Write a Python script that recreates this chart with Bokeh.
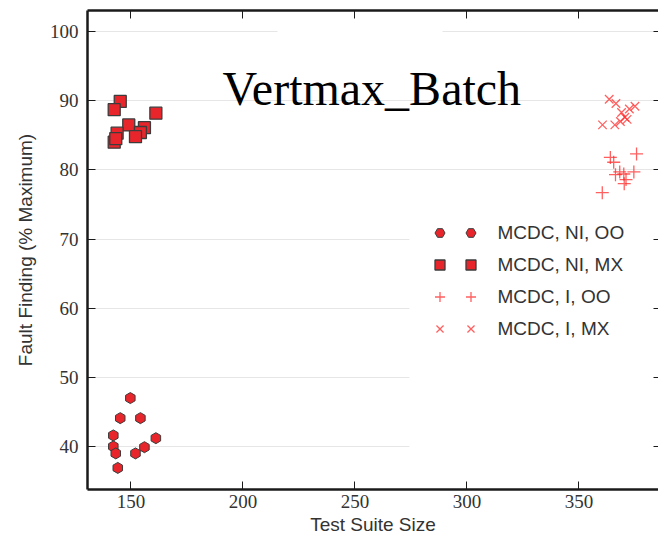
import numpy as np
from bokeh.plotting import figure
from bokeh.models import (Range1d, FixedTicker, LinearAxis, Legend, LegendItem, Label,
                          BoxAnnotation)
from bokeh.embed import file_html
from bokeh.resources import INLINE

# ---- data ----
x_ticks = [150, 200, 250, 300, 350]
y_ticks = [40, 50, 60, 70, 80, 90, 100]

ni_oo_x = [149.7, 145.2, 154.2, 142.1, 142.1, 143.2, 144.1, 152.0, 156.0, 161.1]
ni_oo_y = [47.0, 44.1, 44.1, 41.6, 40.0, 39.0, 36.9, 39.0, 39.9, 41.2]

ni_mx_x = [145.2, 142.5, 161.1, 149.0, 156.0, 154.2, 143.8, 152.0, 142.5, 143.2]
ni_mx_y = [89.9, 88.7, 88.2, 86.5, 86.1, 85.4, 85.3, 84.8, 84.0, 84.5]

i_oo_x = [364.0, 375.7, 365.5, 368.2, 366.3, 370.0, 374.5, 371.0, 370.2, 360.4]
i_oo_y = [81.8, 82.3, 81.1, 79.7, 79.3, 79.4, 79.7, 78.6, 78.0, 76.7]

i_mx_x = [363.5, 366.5, 369.0, 372.5, 375.0, 370.5, 360.5, 366.0, 368.5, 371.5]
i_mx_y = [90.2, 89.6, 88.3, 88.8, 89.2, 87.6, 86.5, 86.5, 87.0, 87.3]

labels = ["MCDC, NI, OO", "MCDC, NI, MX", "MCDC, I, OO", "MCDC, I, MX"]
title_text = "Vertmax_Batch"
x_label = "Test Suite Size"
y_label = "Fault Finding (% Maximum)"

RED = "#e8252b"
EDGE = "#3c3c3c"
LRED = "#ff2a2a"
AXC = "#1a1a1a"
TXT = "#333333"

p = figure(width=658, height=537, output_backend="svg", toolbar_location=None,
           x_range=Range1d(130.58, 385.5), y_range=Range1d(33.78, 103.04),
           min_border_left=87, min_border_right=0, min_border_top=10,
           min_border_bottom=48, outline_line_color=None,
           background_fill_color="white", border_fill_color="white")

# axes
for ax in (p.xaxis[0], p.yaxis[0]):
    ax.major_tick_in = 8
    ax.major_tick_out = 0
    ax.minor_tick_in = 0
    ax.minor_tick_out = 0
    ax.axis_line_width = 2.5
    ax.axis_line_color = AXC
    ax.major_tick_line_color = AXC
    ax.major_tick_line_width = 1
    ax.major_label_text_font = "Liberation Serif"
    ax.major_label_text_font_size = "19px"
    ax.major_label_text_color = TXT
    ax.axis_label_text_font = "Liberation Sans"
    ax.axis_label_text_font_size = "19px"
    ax.axis_label_text_font_style = "normal"
    ax.axis_label_text_color = TXT

p.xaxis[0].ticker = FixedTicker(ticks=x_ticks)
p.yaxis[0].ticker = FixedTicker(ticks=y_ticks)
p.xaxis[0].axis_label = x_label
p.yaxis[0].axis_label = y_label
p.xaxis[0].major_label_standoff = 5
p.xaxis[0].axis_label_standoff = 3
p.yaxis[0].major_label_standoff = 9
p.yaxis[0].axis_label_standoff = 11

top = LinearAxis(ticker=FixedTicker(ticks=x_ticks), major_tick_in=8, major_tick_out=0,
                 minor_tick_in=0, minor_tick_out=0, axis_line_width=2.5,
                 axis_line_color=AXC, major_tick_line_color=AXC,
                 major_label_overrides={t: "" for t in x_ticks},
                 major_label_standoff=0)
p.add_layout(top, "above")
right = LinearAxis(ticker=FixedTicker(ticks=y_ticks), major_tick_in=5, major_tick_out=0,
                   minor_tick_in=0, minor_tick_out=0, axis_line_color=None,
                   major_tick_line_color=AXC,
                   major_label_overrides={t: "" for t in y_ticks},
                   major_label_standoff=0)
p.add_layout(right, "right")

p.xgrid.visible = False
p.ygrid.ticker = FixedTicker(ticks=y_ticks)
p.ygrid.grid_line_color = "#e6e6e6"
p.ygrid.grid_line_width = 1

# white panels behind the title and the legend (they hide the grid there)
p.add_layout(BoxAnnotation(left=215.4, right=289.1, bottom=97.5, top=103.04,
                           fill_color="white", fill_alpha=1, line_color=None,
                           level="underlay"))
p.add_layout(BoxAnnotation(left=274.3, bottom=35.4, top=74.8,
                           fill_color="white", fill_alpha=1, line_color=None,
                           level="underlay"))

# data
r1 = p.scatter(ni_oo_x, ni_oo_y, marker="hex", size=11, angle=np.pi / 2,
               fill_color=RED, line_color=EDGE, line_width=1)
r2 = p.scatter(ni_mx_x, ni_mx_y, marker="square", size=12,
               fill_color=RED, line_color=EDGE, line_width=1.3)
r3 = p.scatter(i_oo_x, i_oo_y, marker="cross", size=13,
               line_color=LRED, line_alpha=0.75, line_width=1.3)
r4 = p.scatter(i_mx_x, i_mx_y, marker="x", size=12,
               line_color=LRED, line_alpha=0.75, line_width=1.3)
rends = [r1, r2, r3, r4]

# title inside plot
p.add_layout(Label(x=257.5, y=91.8, text=title_text, text_font="Liberation Serif",
                   text_font_size="48px", text_color="black", text_align="center",
                   text_baseline="alphabetic"))

common = dict(glyph_width=25, glyph_height=25, label_height=25, spacing=7,
              padding=0, margin=0, border_line_color=None,
              background_fill_alpha=0, label_text_font="Liberation Sans",
              label_text_font_size="19px", label_text_color=TXT)
leg1 = Legend(items=[LegendItem(label=" ", renderers=[r]) for r in rends],
              location=(339.5, 148), label_width=0, label_standoff=0, **common)
leg2 = Legend(items=[LegendItem(label=l, renderers=[r]) for l, r in zip(labels, rends)],
              location=(370.5, 148), label_standoff=15, **common)
p.add_layout(leg1, "center")
p.add_layout(leg2, "center")

open("out.html", "w").write(file_html(p, INLINE))
